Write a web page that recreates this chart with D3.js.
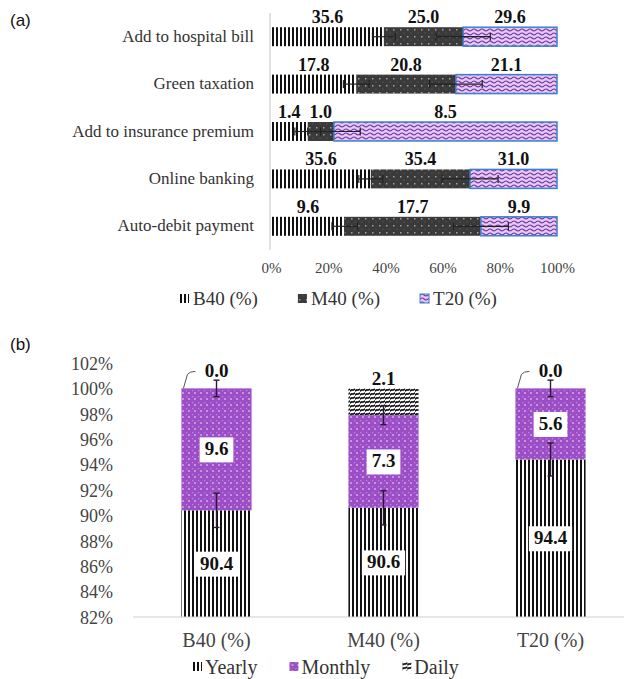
<!DOCTYPE html>
<html>
<head>
<meta charset="utf-8">
<script src="https://cdn.jsdelivr.net/npm/d3@7"></script>
<style>
  body { margin: 0; background: #fff; }
  text { font-family: "Liberation Serif", "Times New Roman", serif; }
</style>
</head>
<body>
<div id="chart"></div>
<script>
// panel (a) data
const categoriesA = ["Add to hospital bill", "Green taxation", "Add to insurance premium", "Online banking", "Auto-debit payment"];
const seriesA = ["B40 (%)", "M40 (%)", "T20 (%)"];
const b40Values = [35.6, 17.8, 1.4, 35.6, 9.6];
const m40Values = [25.0, 20.8, 1.0, 35.4, 17.7];
const t20Values = [29.6, 21.1, 8.5, 31.0, 9.9];
const b40Err = [4.0, 4.5, 4.5, 4.2, 4.5];   // half width, % of bar
const m40Err = [9.5, 9.2, 9.2, 9.8, 9.6];
const ticksA = [0, 0.2, 0.4, 0.6, 0.8, 1.0];

// panel (b) data
const groupsB = ["B40 (%)", "M40 (%)", "T20 (%)"];
const seriesB = ["Yearly", "Monthly", "Daily"];
const yearlyValues = [90.4, 90.6, 94.4];
const monthlyValues = [9.6, 7.3, 5.6];
const dailyValues = [0.0, 2.1, 0.0];
const yearlyErr = [1.35, 1.35, 1.3];
const monthlyErr = [0.65, 0.75, 0.65];
const ticksB = [82, 84, 86, 88, 90, 92, 94, 96, 98, 100, 102];

function generateChart() {
    let svg = d3.select("#chart")
        .append("svg")
        .attr("width", 624)
        .attr("height", 679)
        .style("display", "block");

    svg.append("rect").attr("width", 624).attr("height", 679).attr("fill", "#fff");

    // patterns
    let defs = svg.append("defs");

    let pStripe = defs.append("pattern").attr("id", "stripes")
        .attr("patternUnits", "userSpaceOnUse").attr("width", 4).attr("height", 4);
    pStripe.append("rect").attr("width", 4).attr("height", 4).attr("fill", "#fff");
    pStripe.append("rect").attr("width", 2).attr("height", 4).attr("fill", "#111");

    let pDots = defs.append("pattern").attr("id", "darkdots")
        .attr("patternUnits", "userSpaceOnUse").attr("width", 7).attr("height", 7);
    pDots.append("rect").attr("width", 7).attr("height", 7).attr("fill", "#3a3a3a");
    pDots.append("rect").attr("x", 1).attr("y", 1).attr("width", 1.5).attr("height", 1.5).attr("fill", "#a0a0a0");
    pDots.append("rect").attr("x", 4.5).attr("y", 4.5).attr("width", 1).attr("height", 1).attr("fill", "#666");

    let pWave = defs.append("pattern").attr("id", "waves")
        .attr("patternUnits", "userSpaceOnUse").attr("width", 8).attr("height", 4);
    pWave.append("rect").attr("width", 8).attr("height", 4).attr("fill", "#f0c6ee");
    pWave.append("path").attr("d", "M0 2 Q2 0 4 2 T8 2")
        .attr("fill", "none").attr("stroke", "#5a3cb2").attr("stroke-width", 1.1);

    let pPurple = defs.append("pattern").attr("id", "purple")
        .attr("patternUnits", "userSpaceOnUse").attr("width", 6).attr("height", 6);
    pPurple.append("rect").attr("width", 6).attr("height", 6).attr("fill", "#9c4ec6");
    pPurple.append("circle").attr("cx", 3).attr("cy", 3).attr("r", 1.1).attr("fill", "#cfa3e6");
    pPurple.append("rect").attr("x", 0).attr("y", 0).attr("width", 1.2).attr("height", 1.2).attr("fill", "#bf88dc");

    let pZig = defs.append("pattern").attr("id", "zigzag")
        .attr("patternUnits", "userSpaceOnUse").attr("width", 5).attr("height", 4);
    pZig.append("rect").attr("width", 5).attr("height", 4).attr("fill", "#fff");
    pZig.append("path").attr("d", "M0 3.5 C1.5 0 3.5 4 5 0.5")
        .attr("fill", "none").attr("stroke", "#111").attr("stroke-width", 1.7);

    const fillA = { "B40 (%)": "url(#stripes)", "M40 (%)": "url(#darkdots)", "T20 (%)": "url(#waves)" };
    const fillB = { "Yearly": "url(#stripes)", "Monthly": "url(#purple)", "Daily": "url(#zigzag)" };

    // ---------------- panel (a) ----------------
    svg.append("text").attr("x", 10).attr("y", 26)
        .style("font-family", "'Liberation Sans', Arial, sans-serif")
        .style("font-size", "17px").attr("fill", "#111").text("(a)");

    let rowsA = categoriesA.map((c, i) => ({
        cat: c, "B40 (%)": b40Values[i], "M40 (%)": m40Values[i], "T20 (%)": t20Values[i],
        err: { "B40 (%)": b40Err[i], "M40 (%)": m40Err[i] }
    }));

    let stackA = d3.stack().keys(seriesA).offset(d3.stackOffsetExpand)(rowsA);

    let xA = d3.scaleLinear().domain([0, 1]).range([271, 557]);
    let yA = d3.scaleBand().domain(categoriesA).range([13, 250])
        .paddingInner(0.6).paddingOuter(0.3);

    let gA = svg.append("g");

    gA.selectAll(".layer")
        .data(stackA)
        .enter()
        .append("g")
        .attr("class", "layer")
        .attr("fill", d => fillA[d.key])
        .attr("stroke", d => d.key == "T20 (%)" ? "#3f80cc" : "none")
        .attr("stroke-width", 1.5)
        .selectAll("rect")
        .data(d => d)
        .enter()
        .append("rect")
        .attr("x", d => xA(d[0]))
        .attr("y", d => yA(d.data.cat))
        .attr("width", d => xA(d[1]) - xA(d[0]))
        .attr("height", yA.bandwidth());

    // error bars at each segment end
    stackA.filter(s => s.key != "T20 (%)").forEach(s => {
        s.forEach(d => {
            let e = d.data.err[s.key] / 100;
            let cy = yA(d.data.cat) + yA.bandwidth() / 2;
            let g = gA.append("g").attr("stroke", "#222").attr("stroke-width", 1.2);
            g.append("line").attr("x1", xA(d[1] - e)).attr("x2", xA(d[1] + e)).attr("y1", cy).attr("y2", cy);
            [d[1] - e, d[1] + e].forEach(v => {
                g.append("line").attr("x1", xA(v)).attr("x2", xA(v)).attr("y1", cy - 4).attr("y2", cy + 4);
            });
        });
    });

    // value labels above segments
    stackA.forEach(s => {
        gA.selectAll(null)
            .data(s)
            .enter()
            .append("text")
            .attr("x", d => xA((d[0] + d[1]) / 2))
            .attr("y", d => yA(d.data.cat) - 4)
            .attr("text-anchor", "middle")
            .style("font-size", "18px")
            .style("font-weight", "bold")
            .attr("fill", "#111")
            .text(d => d.data[s.key].toFixed(1));
    });

    // category labels
    gA.selectAll(".cat")
        .data(categoriesA)
        .enter()
        .append("text")
        .attr("class", "cat")
        .attr("x", 254)
        .attr("y", d => yA(d) + yA.bandwidth() / 2 + 5)
        .attr("text-anchor", "end")
        .style("font-size", "17px")
        .attr("fill", "#333")
        .text(d => d);

    gA.append("line").attr("x1", 270).attr("x2", 270).attr("y1", 13).attr("y2", 250)
        .attr("stroke", "#c4c4c4");

    let axisA = gA.append("g")
        .attr("transform", "translate(0,262)")
        .call(d3.axisBottom(xA).tickValues(ticksA).tickSize(0).tickPadding(0).tickFormat(d3.format(".0%")));
    axisA.select(".domain").remove();
    axisA.selectAll("text")
        .style("font-family", "'Liberation Serif', serif")
        .style("font-size", "15px").attr("fill", "#444");

    // legend (a)
    let legA = svg.append("g").attr("transform", "translate(0,305)");
    let lx = 180;
    seriesA.forEach(k => {
        let item = legA.append("g").attr("transform", "translate(" + lx + ",0)");
        item.append("rect").attr("x", 0).attr("y", -11).attr("width", 9).attr("height", 9)
            .attr("fill", fillA[k])
            .attr("stroke", k == "T20 (%)" ? "#3f80cc" : "none").attr("stroke-width", 1);
        let t = item.append("text").attr("x", 13).attr("y", 0)
            .style("font-size", "19px").attr("fill", "#333").text(k);
        lx += 13 + t.node().getComputedTextLength() + 40;
    });

    // ---------------- panel (b) ----------------
    svg.append("text").attr("x", 10).attr("y", 350)
        .style("font-family", "'Liberation Sans', Arial, sans-serif")
        .style("font-size", "17px").attr("fill", "#111").text("(b)");

    let rowsB = groupsB.map((g, i) => ({
        grp: g, Yearly: yearlyValues[i], Monthly: monthlyValues[i], Daily: dailyValues[i],
        err: { Yearly: yearlyErr[i], Monthly: monthlyErr[i] }
    }));
    let stackB = d3.stack().keys(seriesB)(rowsB);

    let yB = d3.scaleLinear().domain([82, 102]).range([617, 363]);
    let xB = d3.scaleBand().domain(groupsB).range([133, 634])
        .paddingInner(0.58).paddingOuter(0.29);

    defs.append("clipPath").attr("id", "clipB")
        .append("rect").attr("x", 120).attr("y", yB(102)).attr("width", 504).attr("height", yB(82) - yB(102));

    let gB = svg.append("g");

    gB.append("g")
        .attr("clip-path", "url(#clipB)")
        .selectAll(".layer")
        .data(stackB)
        .enter()
        .append("g")
        .attr("fill", d => fillB[d.key])
        .selectAll("rect")
        .data(d => d)
        .enter()
        .append("rect")
        .attr("x", d => xB(d.data.grp))
        .attr("y", d => yB(d[1]))
        .attr("width", xB.bandwidth())
        .attr("height", d => yB(d[0]) - yB(d[1]));

    gB.append("line").attr("x1", 133).attr("x2", 624).attr("y1", yB(82)).attr("y2", yB(82))
        .attr("stroke", "#cfcfcf").attr("stroke-width", 1.2);

    // error bars (b)
    stackB.filter(s => s.key != "Daily").forEach(s => {
        s.forEach(d => {
            let e = d.data.err[s.key];
            let cx = xB(d.data.grp) + xB.bandwidth() / 2;
            let g = gB.append("g").attr("stroke", "#2a1a33").attr("stroke-width", 1.4);
            g.append("line").attr("x1", cx).attr("x2", cx).attr("y1", yB(d[1] - e)).attr("y2", yB(d[1] + e));
            [d[1] - e, d[1] + e].forEach(v => {
                g.append("line").attr("x1", cx - 3).attr("x2", cx + 3).attr("y1", yB(v)).attr("y2", yB(v));
            });
        });
    });

    // boxed value labels for yearly and monthly
    stackB.filter(s => s.key != "Daily").forEach(s => {
        s.forEach(d => {
            let cx = xB(d.data.grp) + xB.bandwidth() / 2;
            let cy = yB((Math.max(d[0], 82) + d[1]) / 2);
            let lab = gB.append("g");
            let t = lab.append("text").attr("x", cx).attr("y", cy + 6)
                .attr("text-anchor", "middle")
                .style("font-size", "19px").style("font-weight", "bold").attr("fill", "#111")
                .text(d.data[s.key].toFixed(1));
            let w = t.node().getComputedTextLength();
            lab.insert("rect", "text").attr("x", cx - w / 2 - 5).attr("y", cy - 12)
                .attr("width", w + 10).attr("height", 25).attr("fill", "#fff");
        });
    });

    // daily labels sit on top, with a leader line when the value is zero
    stackB.filter(s => s.key == "Daily").forEach(s => {
        s.forEach(d => {
            let x0 = xB(d.data.grp);
            let cx = x0 + xB.bandwidth() / 2;
            let top = yB(d[1]);
            let v = d.data[s.key];
            if (v == 0) {
                gB.append("path")
                    .attr("d", "M" + (x0 + 2) + "," + top + " L" + (x0 + 6) + "," + (top - 14) +
                        " Q" + (x0 + 8) + "," + (top - 17) + " " + (x0 + 14) + "," + (top - 17))
                    .attr("fill", "none").attr("stroke", "#555").attr("stroke-width", 1);
            }
            gB.append("text").attr("x", cx).attr("y", v == 0 ? top - 11 : top - 3)
                .attr("text-anchor", "middle")
                .style("font-size", "19px").style("font-weight", "bold").attr("fill", "#111")
                .text(v.toFixed(1));
        });
    });

    let axisBy = gB.append("g")
        .attr("transform", "translate(113,0)")
        .call(d3.axisLeft(yB).tickValues(ticksB).tickSize(0).tickPadding(0).tickFormat(d => d + "%"));
    axisBy.select(".domain").remove();
    axisBy.selectAll("text")
        .style("font-family", "'Liberation Serif', serif")
        .style("font-size", "18px").attr("fill", "#444").attr("dy", "0.35em");

    let axisBx = gB.append("g")
        .attr("transform", "translate(0," + yB(82) + ")")
        .call(d3.axisBottom(xB).tickSize(0).tickPadding(16));
    axisBx.select(".domain").remove();
    axisBx.selectAll("text")
        .style("font-family", "'Liberation Serif', serif")
        .style("font-size", "20px").attr("fill", "#444");

    // legend (b)
    let legB = svg.append("g").attr("transform", "translate(0,674)");
    let bx = 193;
    seriesB.forEach(k => {
        let item = legB.append("g").attr("transform", "translate(" + bx + ",0)");
        item.append("rect").attr("x", 0).attr("y", -12).attr("width", 9).attr("height", 9)
            .attr("fill", fillB[k]);
        let t = item.append("text").attr("x", 12).attr("y", 0)
            .style("font-size", "20px").attr("fill", "#333").text(k);
        bx += 12 + t.node().getComputedTextLength() + 32;
    });
}

generateChart();
</script>
</body>
</html>
